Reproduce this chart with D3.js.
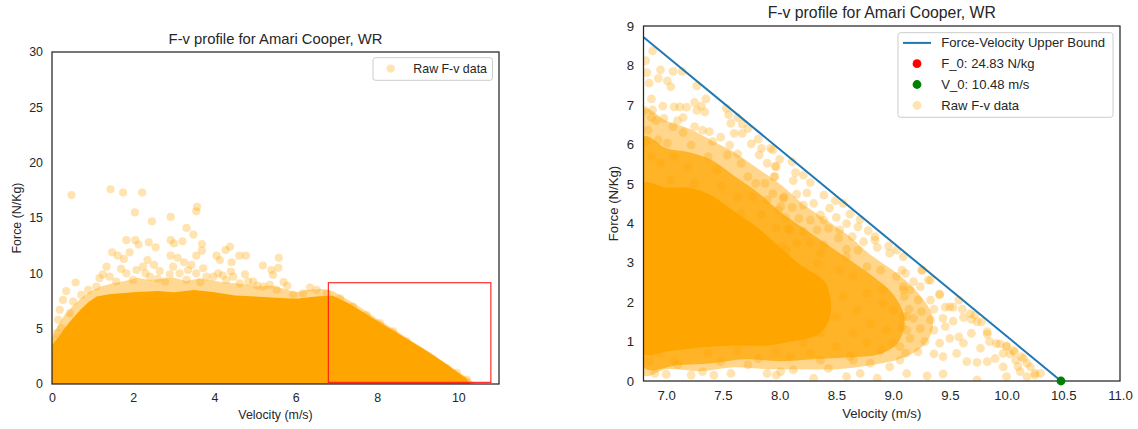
<!DOCTYPE html>
<html>
<head>
<meta charset="utf-8">
<script src="https://cdn.jsdelivr.net/npm/d3@7"></script>
<style>
  body { margin: 0; background: #fff; }
  svg text { font-family: "Liberation Sans", Arial, sans-serif; fill: #262626; }
</style>
</head>
<body>
<svg id="chart" width="1138" height="429"></svg>
<script>
// ---- data ---------------------------------------------------------------
const chartTitle = "F-v profile for Amari Cooper, WR";
const xLabel = "Velocity (m/s)";
const yLabel = "Force (N/Kg)";
const F0 = 24.83;   // N/kg, force intercept
const V0 = 10.48;   // m/s, velocity intercept

const leftXTicks = [0, 2, 4, 6, 8, 10];
const leftYTicks = [0, 5, 10, 15, 20, 25, 30];
const rightXTicks = [7.0, 7.5, 8.0, 8.5, 9.0, 9.5, 10.0, 10.5, 11.0];
const rightYTicks = [0, 1, 2, 3, 4, 5, 6, 7, 8, 9];

// zoom window shown in the right panel: [vMin, vMax, fMin, fMax]
const zoomWindow = [6.8, 10.8, 0.15, 9.15];

// full session: upper edge of the saturated cloud (velocity, force)
const leftCoreV = [0, 0.15, 0.3, 0.5, 0.7, 0.9, 1.1, 1.4, 2.0, 2.6, 3.0, 3.5, 4.0, 4.5, 5.0, 5.5, 6.0, 6.5, 6.9, 7.3, 7.7, 8.1, 8.5, 8.9, 9.3, 9.7, 10.0, 10.2, 10.3];
const leftCoreF = [3.5, 4.2, 5.0, 5.9, 6.7, 7.4, 7.9, 8.1, 8.3, 8.4, 8.3, 8.5, 8.3, 8.0, 7.9, 7.8, 7.7, 7.9, 8.0, 7.3, 6.4, 5.5, 4.6, 3.7, 2.8, 1.8, 1.0, 0.5, 0.0];
// full session: upper edge of the thinner band of overlapping samples
const leftBandV = [0, 0.1, 0.3, 0.5, 0.7, 0.9, 1.2, 1.5, 1.8, 2.1, 2.4, 2.7, 3.0, 3.3, 3.6, 3.9, 4.2, 4.5, 4.8, 5.1, 5.4, 5.7, 6.0, 6.3, 6.6, 6.9, 7.2, 7.6, 8.0, 8.4, 8.8, 9.2, 9.6, 10.0, 10.3, 10.4];
const leftBandF = [4.2, 5.0, 6.2, 7.0, 7.7, 8.3, 8.8, 9.1, 9.3, 9.6, 9.4, 9.5, 9.6, 9.3, 9.5, 9.4, 9.2, 9.1, 9.0, 8.8, 8.9, 8.6, 8.3, 8.5, 8.6, 8.4, 7.8, 6.9, 5.9, 5.0, 4.0, 3.1, 2.1, 1.1, 0.4, 0.0];

// full session: individual samples above the cloud
const leftPoints = [
  [0.48,17.07],[1.44,17.6],[1.75,17.3],[2.22,17.3],[2.04,15.5],[2.46,14.7],[2.92,15.1],[3.57,16.0],[3.55,15.6],
  [3.31,14.1],[3.48,13.5],[1.83,13.0],[2.05,13.0],[2.13,12.6],[2.38,12.8],[2.55,12.35],[2.92,13.0],[3.0,12.7],
  [3.21,12.9],[3.69,12.65],[3.69,12.05],[1.48,11.9],[1.62,11.6],[1.91,11.9],[1.77,11.3],[2.92,11.6],[3.09,11.4],
  [2.35,11.2],[3.25,11.0],[3.55,11.6],[4.38,12.4],[4.27,12.1],[4.05,11.6],[4.13,11.2],[4.61,11.6],[4.77,11.6],
  [5.58,11.4],[5.57,10.5],[5.19,10.7],[5.4,10.3],[5.44,9.86],[4.42,11.0],[4.4,10.16],[3.72,10.46],[3.43,10.76],
  [2.98,10.6],[2.51,10.76],[1.34,10.6],[0.58,9.17],[0.35,8.4],[0.19,6.7],[5.79,8.87],[4.83,9.26],[3.97,9.7],[1.42,9.7],
  [0.27,7.6],[0.15,5.8],[0.11,4.6],[0.07,4.0],[0.23,5.05],[0.44,6.4],[0.52,7.45],[0.72,8.05],[0.89,8.5],[1.09,8.8],
  [1.17,9.56],[1.58,9.26],[1.83,10.0],[2.08,10.3],[2.24,10.6],[1.99,9.4],[2.41,9.7],[2.65,10.2],[2.78,9.26],[3.14,10.0],
  [3.31,9.4],[3.55,10.0],[3.80,9.7],[4.09,10.0],[4.29,9.4],[4.46,9.7],[4.62,9.1],[4.95,9.26],[5.20,8.8],[5.36,8.96],
  [5.53,8.5],[5.94,8.05],[6.18,8.2],[6.51,8.5],[6.76,8.2],[7.09,7.75],[7.41,7.0],[7.74,6.25],[8.07,5.5],[8.4,4.75],
  [8.73,3.85],[9.06,2.95],[9.38,2.2],[9.71,1.44],[9.96,1.0],[10.21,0.39],
  [1.25,9.9],[1.7,10.4],[2.3,10.0],[2.6,9.5],[2.9,9.9],[3.35,10.3],[3.65,9.2],[4.2,9.8],[4.75,9.9],[5.05,8.9],[5.7,9.2],[6.35,8.7]
];

// zoomed view: density layers of the cloud (closed outlines), outer to inner
const rightOuterV = [6.8, 6.8, 7.0, 7.2, 7.4, 7.6, 7.8, 8.0, 8.2, 8.4, 8.6, 8.8, 9.0, 9.2, 9.35, 9.3, 9.1, 8.8, 8.5, 8.2, 7.9, 7.6, 7.3, 7.0];
const rightOuterF = [0.15, 6.9, 6.6, 6.4, 6.1, 5.8, 5.4, 5.0, 4.5, 4.1, 3.7, 3.2, 2.8, 2.3, 1.6, 1.0, 0.6, 0.4, 0.3, 0.3, 0.3, 0.35, 0.25, 0.3];
const rightMidV = [6.8, 6.8, 7.0, 7.2, 7.4, 7.6, 7.8, 8.0, 8.2, 8.4, 8.6, 8.8, 9.0, 9.1, 9.05, 8.9, 8.6, 8.3, 8.0, 7.7, 7.4, 7.1];
const rightMidF = [0.35, 6.2, 5.9, 5.8, 5.6, 5.2, 4.8, 4.3, 3.9, 3.5, 3.1, 2.7, 2.2, 1.6, 1.0, 0.7, 0.6, 0.55, 0.5, 0.55, 0.45, 0.4];
const rightCoreV = [6.8, 6.8, 7.0, 7.2, 7.4, 7.6, 7.8, 8.0, 8.2, 8.4, 8.45, 8.35, 8.1, 7.9, 7.6, 7.3, 7.0];
const rightCoreF = [0.7, 5.0, 4.9, 4.9, 4.7, 4.3, 3.9, 3.4, 2.9, 2.5, 1.7, 1.2, 1.0, 0.9, 0.9, 0.85, 0.75];

// zoomed view: individual samples
const rightPoints = [
  [6.88,8.37],[6.82,8.12],[6.83,7.82],[6.95,7.89],[7.06,7.85],[7.14,7.85],[6.93,7.67],[6.85,7.55],[7.01,7.61],[7.04,7.46],
  [7.27,7.48],[6.87,7.15],[6.97,6.97],[7.35,7.15],[7.25,7.06],[7.07,6.95],[7.12,6.95],[7.18,6.94],[7.31,6.97],[6.88,6.87],
  [6.81,6.86],[7.27,6.86],[7.34,6.82],[7.53,6.91],[7.55,6.75],[7.63,6.68],[6.87,6.68],[6.98,6.66],[7.10,6.60],[7.15,6.68],
  [6.91,6.60],[7.67,6.51],[7.57,6.53],[7.25,6.45],[7.06,6.45],[6.84,6.36],[7.15,6.30],[7.32,6.36],[7.38,6.32],[7.48,6.18],
  [7.60,6.28],[7.67,6.28],[7.72,6.40],[7.81,6.13],[7.75,6.01],[6.82,6.07],[6.93,6.11],[7.01,6.03],[7.22,5.98],[7.41,6.07],
  [7.56,5.98],[7.92,5.90],[7.84,5.90],
  [6.87,5.69],[6.95,5.52],[7.07,5.69],[7.19,5.43],[7.37,5.69],[7.45,5.35],[7.66,5.52],[7.72,5.18],[7.48,4.93],[7.25,5.01],
  [7.04,5.10],[7.63,4.67],[7.89,4.59],[7.66,4.25],[7.54,5.73],[7.63,5.76],[7.82,5.73],[7.89,5.52],[7.97,5.43],[7.95,5.18],
  [7.79,5.01],[7.87,5.01],[8.04,4.67],[8.01,4.42],[7.76,4.67],[7.84,4.21],[8.07,3.87],[8.06,3.32],[7.98,3.07],
  [7.94,5.86],[8.00,5.62],[7.96,5.45],[8.11,5.56],[8.14,5.28],[8.12,5.08],[8.21,5.22],[8.27,5.03],[7.96,5.18],[8.24,4.77],
  [8.15,4.74],[8.39,4.71],[8.49,4.57],[8.56,4.50],[8.03,4.63],[7.94,4.75],[8.30,4.50],[8.21,4.46],[8.11,4.40],[7.99,4.33],
  [8.44,4.38],[8.62,4.23],[8.36,4.21],[8.50,4.15],[8.71,4.10],[8.39,4.08],[8.27,4.08],[8.17,4.12],[8.05,4.15],[8.59,3.99],
  [8.69,3.91],[8.78,3.81],[8.53,3.83],[8.43,3.87],[8.33,3.83],[8.21,3.79],[8.09,3.83],[7.97,3.87],[8.84,3.66],[8.64,3.66],
  [8.74,3.53],[8.52,3.62],[8.39,3.45],[8.27,3.51],[8.15,3.49],[8.02,3.41],[8.96,3.42],[8.86,3.39],[8.59,3.34],[9.03,3.32],
  [8.69,3.31],
  [8.21,2.81],[8.33,2.98],[8.53,2.81],[8.65,2.65],[8.89,2.81],[8.77,2.22],[8.91,1.97],[8.56,2.14],[8.39,2.39],[8.68,1.80],
  [8.50,1.63],[8.80,1.46],[8.94,1.29],[8.65,1.21],[8.36,1.21],[8.21,0.96],[8.50,0.87],[8.77,0.96],[9.00,0.96],[8.09,0.62],
  [8.27,0.70],[8.62,0.62],[8.80,0.45],[9.06,0.53],[9.12,1.63],[9.08,2.81],[7.97,0.15],[8.12,0.28],[8.30,0.07],[8.43,0.32],
  [8.59,0.11],[8.71,0.19],[8.86,0.07],[8.97,0.36],[8.36,0.53],[8.65,0.53],[8.89,0.78],[9.06,0.87],[9.08,1.38],[9.00,1.80],
  [8.91,2.31],[9.03,2.65],[8.77,2.90],[8.59,3.15],[8.36,3.24],[9.09,2.31],
  [8.84,3.57],[8.97,3.24],[9.09,3.15],[9.25,2.81],[9.33,2.56],[9.41,2.18],[9.58,2.05],[9.50,1.88],[9.68,1.71],[9.74,1.50],
  [9.83,1.25],[9.91,0.95],[10.00,0.87],[10.07,0.74],[10.15,0.57],[10.21,0.36],[10.30,0.19],[10.25,0.15],
  [9.11,2.73],[9.26,2.81],[9.18,2.52],[9.09,2.39],[9.31,2.56],[9.24,2.39],[9.15,2.31],[9.10,2.14],[9.41,2.21],[9.33,2.05],
  [9.22,2.05],[9.14,1.82],[9.36,1.82],[9.46,1.87],[9.53,1.87],[9.61,1.82],[9.25,1.76],[9.09,1.63],[9.18,1.59],[9.33,1.55],
  [9.44,1.59],[9.53,1.52],[9.62,1.61],[9.69,1.56],[9.78,1.50],[9.72,1.67],[9.12,1.29],[9.24,1.33],[9.36,1.29],[9.46,1.38],
  [9.58,1.12],[9.62,0.96],[9.69,1.21],[9.83,1.19],[9.15,1.08],[9.28,1.00],[9.41,0.96],[9.50,1.08],[9.77,0.83],[9.85,1.00],
  [9.94,0.94],[10.00,0.89],[10.06,0.77],[10.13,0.62],[10.03,0.69],[9.11,0.70],[9.22,0.74],[9.36,0.69],[9.44,0.62],[9.56,0.70],
  [9.65,0.49],[9.74,0.47],[9.83,0.49],[9.90,0.57],[9.97,0.70],[10.10,0.37],[10.18,0.45],[10.25,0.20],[9.30,0.13],[9.44,0.18],
  [9.74,0.03],[10.00,0.11],[10.18,0.11],[9.12,0.19],[10.08,0.53],[10.12,0.24],[9.97,0.36],
  [6.90,0.19],[7.00,0.17],[7.10,0.41],[7.22,0.15],[7.32,0.24],[7.42,0.15],[7.57,0.19],[7.72,0.41],[7.89,0.19],[8.01,0.24],
  [6.85,0.49],[7.07,0.53],[7.48,0.49],[6.95,0.70],[7.37,0.70],[7.81,0.57],[7.97,0.74],[7.63,0.78]
];

// ---- drawing ------------------------------------------------------------
const ORANGE = "#ffa500";
const INK = "#262626";
const svg = d3.select("#chart");

function drawFrame(g, x, y, xTicks, yTicks, xFmt, fs, opts) {
  const [x0, x1] = x.range();
  const [y0, y1] = y.range();
  const ax = g.append("g").attr("transform", `translate(0,${y0})`)
    .call(d3.axisBottom(x).tickValues(xTicks).tickFormat(xFmt).tickSize(0).tickPadding(opts.xPad));
  const ay = g.append("g").attr("transform", `translate(${x0},0)`)
    .call(d3.axisLeft(y).tickValues(yTicks).tickFormat(d3.format("d")).tickSize(0).tickPadding(opts.yPad));
  [ax, ay].forEach(a => {
    a.select(".domain").remove();
    a.attr("font-family", null).attr("font-size", null);
    a.selectAll("text").attr("fill", INK).style("font-size", fs + "px");
  });
  g.append("rect")
    .attr("x", x0).attr("y", y1).attr("width", x1 - x0).attr("height", y0 - y1)
    .attr("fill", "none").attr("stroke", INK).attr("stroke-width", 1.25);
  g.append("text").attr("x", (x0 + x1) / 2).attr("y", opts.titleY)
    .attr("text-anchor", "middle").style("font-size", opts.titleSize + "px").text(chartTitle);
  g.append("text").attr("x", (x0 + x1) / 2).attr("y", opts.xLabelY)
    .attr("text-anchor", "middle").style("font-size", fs + "px").text(xLabel);
  g.append("text")
    .attr("transform", `translate(${opts.yLabelX},${(y0 + y1) / 2}) rotate(-90)`)
    .attr("text-anchor", "middle").style("font-size", fs + "px").text(yLabel);
}

function clipFor(id, x, y) {
  const [x0, x1] = x.range();
  const [y0, y1] = y.range();
  svg.append("clipPath").attr("id", id).append("rect")
    .attr("x", x0).attr("y", y1).attr("width", x1 - x0).attr("height", y0 - y1);
  return `url(#${id})`;
}

const zip = (vs, fs) => vs.map((v, i) => [v, fs[i]]);

// ---------- left panel: whole session ----------
const lx = d3.scaleLinear().domain([0, 11]).range([52, 499]);
const ly = d3.scaleLinear().domain([0, 30]).range([384, 52]);
const left = svg.append("g");
const leftPlot = left.append("g").attr("clip-path", clipFor("clip-left", lx, ly));
const leftArea = d3.area().x(d => lx(d[0])).y0(ly(0)).y1(d => ly(d[1]));

leftPlot.append("path").datum(zip(leftBandV, leftBandF))
  .attr("fill", ORANGE).attr("fill-opacity", 0.42).attr("d", leftArea);
leftPlot.append("path").datum(zip(leftCoreV, leftCoreF))
  .attr("fill", ORANGE).attr("d", leftArea);

leftPlot.append("g").selectAll("circle").data(leftPoints).join("circle")
  .attr("cx", d => lx(d[0])).attr("cy", d => ly(d[1])).attr("r", 4.1)
  .attr("fill", ORANGE).attr("fill-opacity", 0.3);

drawFrame(left, lx, ly, leftXTicks, leftYTicks, d3.format("d"), 12.4,
  { xPad: 9.3, yPad: 9, titleY: 43.5, titleSize: 14.8, xLabelY: 419, yLabelX: 20.5 });

// zoom window outline
left.append("rect")
  .attr("x", lx(zoomWindow[0])).attr("y", ly(zoomWindow[3]))
  .attr("width", lx(zoomWindow[1]) - lx(zoomWindow[0]))
  .attr("height", ly(zoomWindow[2]) - ly(zoomWindow[3]))
  .attr("fill", "none").attr("stroke", "#ff1a1a").attr("stroke-width", 1.1);

// left legend
const ll = left.append("g");
ll.append("rect").attr("x", 373).attr("y", 57.7).attr("width", 119.5).attr("height", 22.6)
  .attr("rx", 2.5).attr("fill", "#fff").attr("fill-opacity", 0.8).attr("stroke", "#cccccc");
ll.append("circle").attr("cx", 390.7).attr("cy", 68.6).attr("r", 4.1)
  .attr("fill", ORANGE).attr("fill-opacity", 0.3);
ll.append("text").attr("x", 413.3).attr("y", 68.6).attr("dy", "0.35em")
  .style("font-size", "12.4px").text("Raw F-v data");

// ---------- right panel: zoom near V0 ----------
const rx = d3.scaleLinear().domain([6.8, 11]).range([643.5, 1120]);
const ry = d3.scaleLinear().domain([0, 9]).range([381, 26]);
const right = svg.append("g");
const rightPlot = right.append("g").attr("clip-path", clipFor("clip-right", rx, ry));
const outline = d3.line().x(d => rx(d[0])).y(d => ry(d[1])).curve(d3.curveCatmullRomClosed.alpha(0.5));

[[rightOuterV, rightOuterF, 0.45], [rightMidV, rightMidF, 0.72], [rightCoreV, rightCoreF, 1]]
  .forEach(([vs, fs, op]) => {
    rightPlot.append("path").datum(zip(vs, fs))
      .attr("fill", ORANGE).attr("fill-opacity", op).attr("d", outline);
  });

rightPlot.append("g").selectAll("circle").data(rightPoints).join("circle")
  .attr("cx", d => rx(d[0])).attr("cy", d => ry(d[1])).attr("r", 4.4)
  .attr("fill", ORANGE).attr("fill-opacity", 0.3);

// linear force-velocity bound F = F0 * (1 - v / V0)
const bound = [[0, F0], [V0, 0]];
rightPlot.append("path").datum(bound)
  .attr("fill", "none").attr("stroke", "#1f77b4").attr("stroke-width", 2)
  .attr("d", d3.line().x(d => rx(d[0])).y(d => ry(d[1])));
rightPlot.append("circle").attr("cx", rx(0)).attr("cy", ry(F0)).attr("r", 4.4).attr("fill", "#ff0000");

drawFrame(right, rx, ry, rightXTicks, rightYTicks, d3.format(".1f"), 13.2,
  { xPad: 9.6, yPad: 9.5, titleY: 17.5, titleSize: 15.8, xLabelY: 418, yLabelX: 617.5 });

right.append("circle").attr("cx", rx(V0)).attr("cy", ry(0)).attr("r", 4.4).attr("fill", "#008000");

// right legend
const rl = right.append("g");
rl.append("rect").attr("x", 898).attr("y", 32.7).attr("width", 215).attr("height", 84.6)
  .attr("rx", 2.6).attr("fill", "#fff").attr("fill-opacity", 0.8).attr("stroke", "#cccccc");
const rows = [
  { kind: "line", color: "#1f77b4", label: "Force-Velocity Upper Bound" },
  { kind: "dot", color: "#ff0000", opacity: 1, label: `F_0: ${F0.toFixed(2)} N/kg` },
  { kind: "dot", color: "#008000", opacity: 1, label: `V_0: ${V0.toFixed(2)} m/s` },
  { kind: "dot", color: ORANGE, opacity: 0.3, label: "Raw F-v data" }
];
rows.forEach((r, i) => {
  const cy = 42.9 + i * 20.8;
  if (r.kind === "line") {
    rl.append("line").attr("x1", 903).attr("x2", 931).attr("y1", cy).attr("y2", cy)
      .attr("stroke", r.color).attr("stroke-width", 2);
  } else {
    rl.append("circle").attr("cx", 917).attr("cy", cy).attr("r", 4.4)
      .attr("fill", r.color).attr("fill-opacity", r.opacity);
  }
  rl.append("text").attr("x", 941.3).attr("y", cy).attr("dy", "0.35em")
    .style("font-size", "13.1px").text(r.label);
});
</script>
</body>
</html>
